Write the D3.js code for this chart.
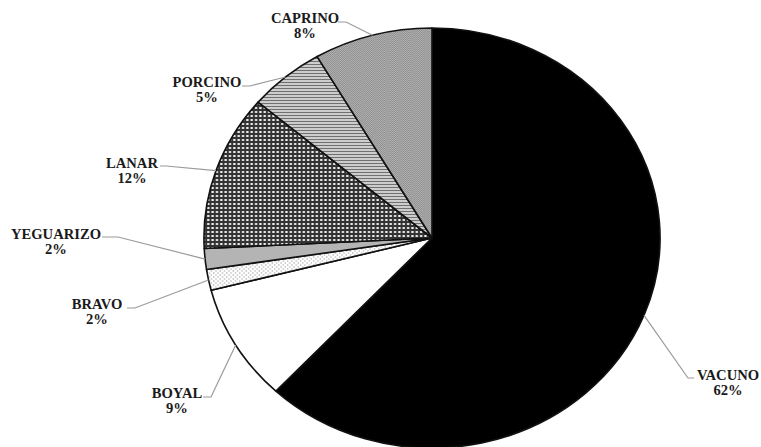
<!DOCTYPE html>
<html>
<head>
<meta charset="utf-8">
<script src="https://cdn.jsdelivr.net/npm/d3@7/dist/d3.min.js"></script>
<style>
  html, body { margin: 0; padding: 0; background: #fff; }
  .slice-label { font-family: "Liberation Serif", "Times New Roman", serif; font-weight: bold; font-size: 14.6px; fill: #1a1a1a; }
</style>
</head>
<body>
<svg id="chart"></svg>
<script>
// slices, clockwise from 12 o'clock
const categories = ['VACUNO', 'BOYAL', 'BRAVO', 'YEGUARIZO', 'LANAR', 'PORCINO', 'CAPRINO'];
const shares = [62, 9, 1.6, 1.6, 12, 5.4, 8.4];
const fills = ['#000', '#fff', 'url(#pat-bravo)', '#b4b4b4', 'url(#pat-lanar)', 'url(#pat-porcino)', 'url(#pat-caprino)'];

class pieChart {
    constructor(_config) {
        this.config = {
            parentElement: _config.parentElement,
            containerWidth: _config.containerWidth || 761,
            containerHeight: _config.containerHeight || 447,
            cx: 432,
            cy: 238,
            radius: 210,
            stretchX: 1.086
        };
        // label layout: text centre x, first baseline, end of the short horizontal tick
        this.labelPos = {
            VACUNO: { x: 728, y: 380, hx0: 694, hx1: 688, hy: 378 },
            BOYAL: { x: 177, y: 398, hx0: 203, hx1: 211, hy: 397 },
            BRAVO: { x: 97, y: 309, hx0: 127, hx1: 135, hy: 308 },
            YEGUARIZO: { x: 56, y: 239, hx0: 102, hx1: 118, hy: 237 },
            LANAR: { x: 132, y: 168, hx0: 160, hx1: 166, hy: 166 },
            PORCINO: { x: 207, y: 87, hx0: 242, hx1: 250, hy: 86 },
            CAPRINO: { x: 305, y: 23, hx0: 338, hx1: 346, hy: 22 }
        };
        this.initApp();
    }
    initApp() {
        let app = this;
        app.svg = d3.select(app.config.parentElement).attr('width', app.config.containerWidth).attr('height', app.config.containerHeight);
        app.defs = app.svg.append('defs');

        let p = app.defs.append('pattern').attr('id', 'pat-bravo').attr('patternUnits', 'userSpaceOnUse').attr('width', 4).attr('height', 4);
        p.append('rect').attr('width', 4).attr('height', 4).attr('fill', '#fff');
        p.append('circle').attr('cx', 1).attr('cy', 1).attr('r', 0.7).attr('fill', '#aaa');
        p.append('circle').attr('cx', 3).attr('cy', 3).attr('r', 0.7).attr('fill', '#aaa');

        p = app.defs.append('pattern').attr('id', 'pat-lanar').attr('patternUnits', 'userSpaceOnUse').attr('width', 4).attr('height', 4);
        p.append('rect').attr('width', 4).attr('height', 4).attr('fill', '#333');
        p.append('rect').attr('x', 1).attr('y', 1).attr('width', 2).attr('height', 2).attr('fill', '#f4f4f4');

        p = app.defs.append('pattern').attr('id', 'pat-porcino').attr('patternUnits', 'userSpaceOnUse').attr('width', 4).attr('height', 3);
        p.append('rect').attr('width', 4).attr('height', 3).attr('fill', '#cdcdcd');
        p.append('rect').attr('width', 4).attr('height', 1).attr('fill', '#707070');

        p = app.defs.append('pattern').attr('id', 'pat-caprino').attr('patternUnits', 'userSpaceOnUse').attr('width', 2).attr('height', 2);
        p.append('rect').attr('width', 2).attr('height', 2).attr('fill', '#b6b6b6');
        p.append('rect').attr('width', 1).attr('height', 1).attr('fill', '#8a8a8a');
        p.append('rect').attr('x', 1).attr('y', 1).attr('width', 1).attr('height', 1).attr('fill', '#8a8a8a');

        app.color = d3.scaleOrdinal().domain(categories).range(fills);
        app.data = categories.map((c, i) => ({ key: c, value: shares[i] }));
        app.total = d3.sum(shares);
        app.pie = d3.pie().sort(null).value(d => d.value);
        app.arc = d3.arc().innerRadius(0).outerRadius(app.config.radius);
        app.renderApp();
    }
    renderApp() {
        let app = this;
        let c = app.config;
        let arcs = app.pie(app.data);

        let g = app.svg.append('g').attr('transform', `translate(${ c.cx },${ c.cy }) scale(${ c.stretchX },1)`);
        g.selectAll('path').data(arcs).enter().append('path')
            .attr('d', app.arc)
            .attr('fill', d => app.color(d.data.key))
            .attr('stroke', '#111')
            .attr('stroke-width', 1.6)
            .attr('stroke-linejoin', 'round')
            .attr('vector-effect', 'non-scaling-stroke');

        // leader lines from the middle of each slice edge
        let lines = app.svg.append('g');
        arcs.forEach(d => {
            let a = (d.startAngle + d.endAngle) / 2;
            let ax = c.cx + c.radius * c.stretchX * Math.sin(a);
            let ay = c.cy - c.radius * Math.cos(a);
            let lp = app.labelPos[d.data.key];
            lines.append('polyline')
                .attr('points', `${ lp.hx0 },${ lp.hy } ${ lp.hx1 },${ lp.hy } ${ ax },${ ay }`)
                .attr('fill', 'none')
                .attr('stroke', '#9a9a9a')
                .attr('stroke-width', 1.2);
            let t = app.svg.append('text').attr('class', 'slice-label').attr('text-anchor', 'middle');
            t.append('tspan').attr('x', lp.x).attr('y', lp.y).text(d.data.key);
            t.append('tspan').attr('x', lp.x).attr('y', lp.y + 15).text(Math.round(d.data.value / app.total * 100) + '%');
        });
    }
}

new pieChart({ parentElement: '#chart' });
</script>
</body>
</html>
